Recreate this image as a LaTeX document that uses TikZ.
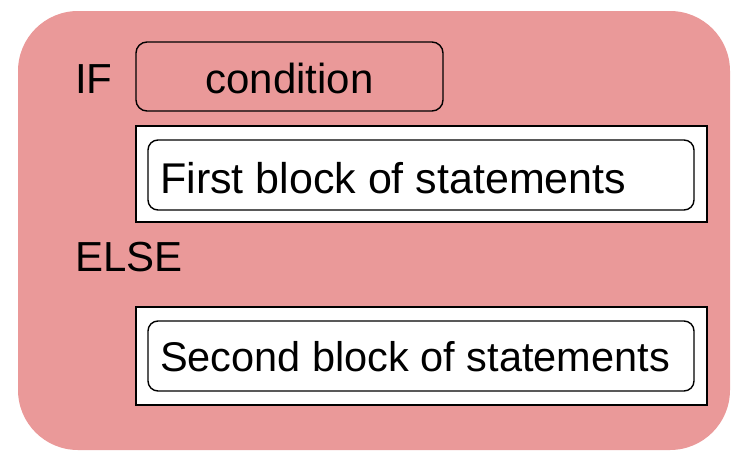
\documentclass[tikz,border=0pt]{standalone}
\usepackage{fontspec}
\setmainfont{Liberation Sans}
\definecolor{pinkfill}{HTML}{EA9999}
\begin{document}
\begin{tikzpicture}[x=1pt,y=-1pt,
  lbl/.style={anchor=base west,inner sep=0pt,font=\fontsize{42}{50}\selectfont},
  outerblk/.style={draw=black,line width=1.8pt,fill=white},
  innerblk/.style={draw=black,line width=1.4pt,fill=white,rounded corners=10pt},
  condbox/.style={draw=black,line width=1.4pt,fill=pinkfill,rounded corners=11pt}]
\useasboundingbox (0,0) rectangle (752,461);
\fill[pinkfill,rounded corners=60pt] (18,11) rectangle (730,450);
% IF and condition
\node[lbl] (if) at (75,93) {IF};
\draw[condbox] (136,42) rectangle (443,111);
\node[lbl,anchor=base] (cond) at (289.5,93) {condition};
% first block
\draw[outerblk] (136,126) rectangle (707,222);
\draw[innerblk] (148,140) rectangle (694,210);
\node[lbl,font=\fontsize{43}{50}\selectfont] (first) at (160,193) {First block of statements};
% else
\node[lbl] (else) at (75,271) {ELSE};
% second block
\draw[outerblk] (136,307) rectangle (707,405);
\draw[innerblk] (148,321) rectangle (694,391);
\node[lbl,font=\fontsize{41.5}{50}\selectfont] (second) at (160,371) {Second block of statements};
\end{tikzpicture}
\end{document}
